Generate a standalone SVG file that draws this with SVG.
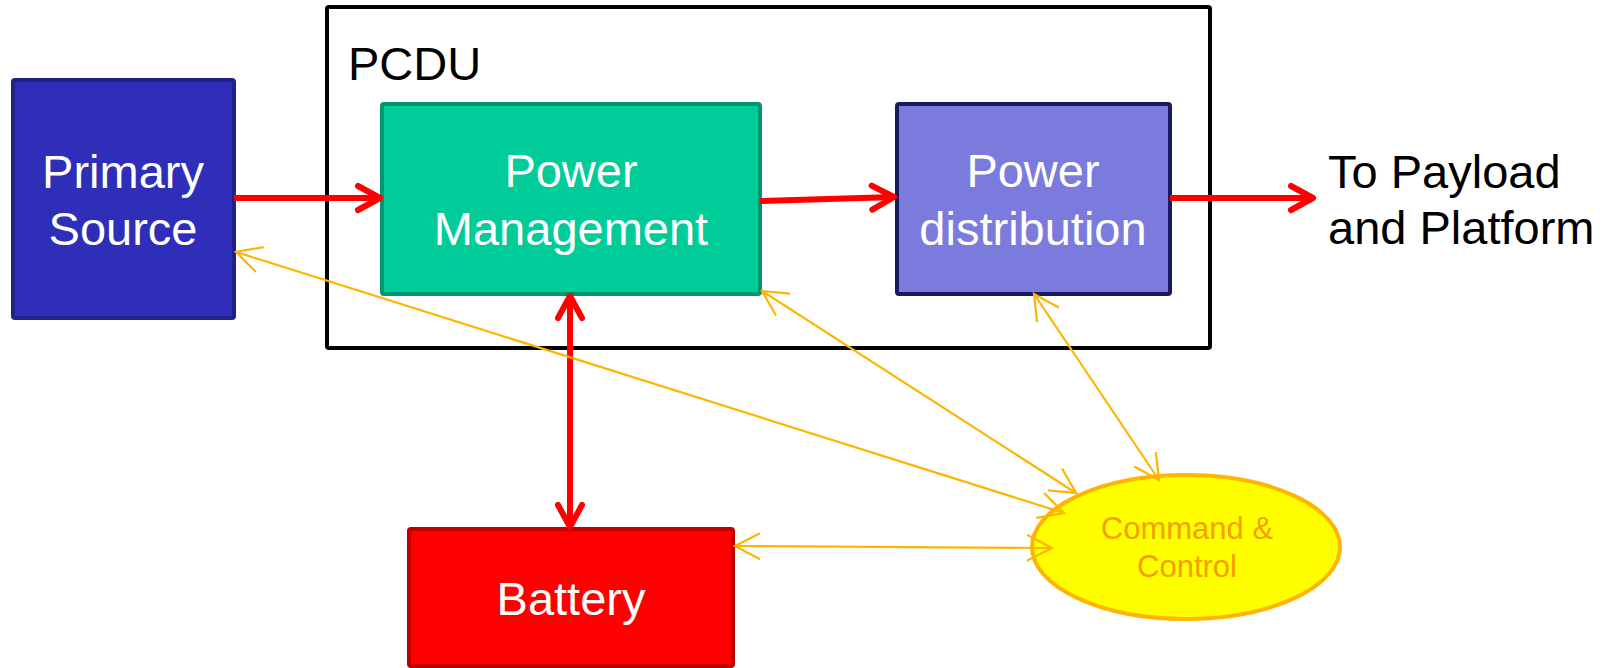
<svg xmlns="http://www.w3.org/2000/svg" width="1612" height="668" viewBox="0 0 1612 668">
<style>
.lbl{font-family:"Liberation Sans",Arial,sans-serif;font-size:47px;fill:#ffffff;text-anchor:middle}
.blk{font-family:"Liberation Sans",Arial,sans-serif;font-size:47px;fill:#000000}
.cc{font-family:"Liberation Sans",Arial,sans-serif;font-size:31px;fill:#F59E00;text-anchor:middle}
.red{stroke:#FF0000;stroke-width:6;fill:none}
.yel{stroke:#FFB400;stroke-width:2.2;fill:none;marker-start:url(#ya);marker-end:url(#ya)}
</style>
<defs>
<marker id="ra" markerUnits="userSpaceOnUse" viewBox="-30 -16 34 32" markerWidth="34" markerHeight="32" refX="0" refY="0" orient="auto-start-reverse">
<path d="M-22,-12 L0,0 L-22,12" fill="none" stroke="#FF0000" stroke-width="6" stroke-linecap="round" stroke-linejoin="round"/>
</marker>
<marker id="ya" markerUnits="userSpaceOnUse" viewBox="-30 -16 34 32" markerWidth="34" markerHeight="32" refX="0" refY="0" orient="auto-start-reverse">
<path d="M-25,-13 L0,0 L-25,13" fill="none" stroke="#FFB400" stroke-width="2.2"/>
</marker>
</defs>
<rect width="1612" height="668" fill="#ffffff"/>
<g id="pcdu">
<rect x="327" y="7" width="883" height="341" rx="2" fill="none" stroke="#000000" stroke-width="4"/>
<text class="blk" x="348" y="80">PCDU</text>
</g>
<g id="primary-source">
<rect x="13" y="80" width="221" height="238" rx="2" fill="#2E2EB8" stroke="#21218A" stroke-width="4"/>
<text class="lbl" x="123" y="188">Primary</text>
<text class="lbl" x="123" y="245">Source</text>
</g>
<g id="power-management">
<rect x="382" y="104" width="378" height="190" rx="2" fill="#00CC99" stroke="#009670" stroke-width="4"/>
<text class="lbl" x="571" y="187">Power</text>
<text class="lbl" x="571" y="245">Management</text>
</g>
<g id="power-distribution">
<rect x="897" y="104" width="273" height="190" rx="2" fill="#7B7BDE" stroke="#1A1A5E" stroke-width="4"/>
<text class="lbl" x="1033" y="187">Power</text>
<text class="lbl" x="1033" y="245">distribution</text>
</g>
<g id="battery">
<rect x="409" y="529" width="324" height="137" rx="2" fill="#FF0000" stroke="#C00000" stroke-width="4"/>
<text class="lbl" x="571" y="615">Battery</text>
</g>
<g id="command-control">
<ellipse cx="1186" cy="547" rx="154" ry="72" fill="#FFFF00" stroke="#FFB400" stroke-width="4"/>
<text class="cc" x="1187" y="539">Command &amp;</text>
<text class="cc" x="1187" y="577">Control</text>
</g>
<g id="to-payload">
<text class="blk" x="1328" y="188">To Payload</text>
<text class="blk" x="1328" y="244">and Platform</text>
</g>
<g id="connectors">
<line class="red" x1="234" y1="198" x2="380" y2="198" marker-end="url(#ra)"/>
<line class="red" x1="760" y1="201" x2="894" y2="197" marker-end="url(#ra)"/>
<line class="red" x1="1170" y1="198" x2="1313" y2="198" marker-end="url(#ra)"/>
<line class="red" x1="570" y1="296" x2="570" y2="527" marker-start="url(#ra)" marker-end="url(#ra)"/>
<line class="yel" x1="236" y1="252" x2="1064" y2="513"/>
<line class="yel" x1="762" y1="291" x2="1076" y2="493"/>
<line class="yel" x1="1034" y1="294" x2="1159" y2="480"/>
<line class="yel" x1="735" y1="546" x2="1052" y2="548"/>
</g>
</svg>
